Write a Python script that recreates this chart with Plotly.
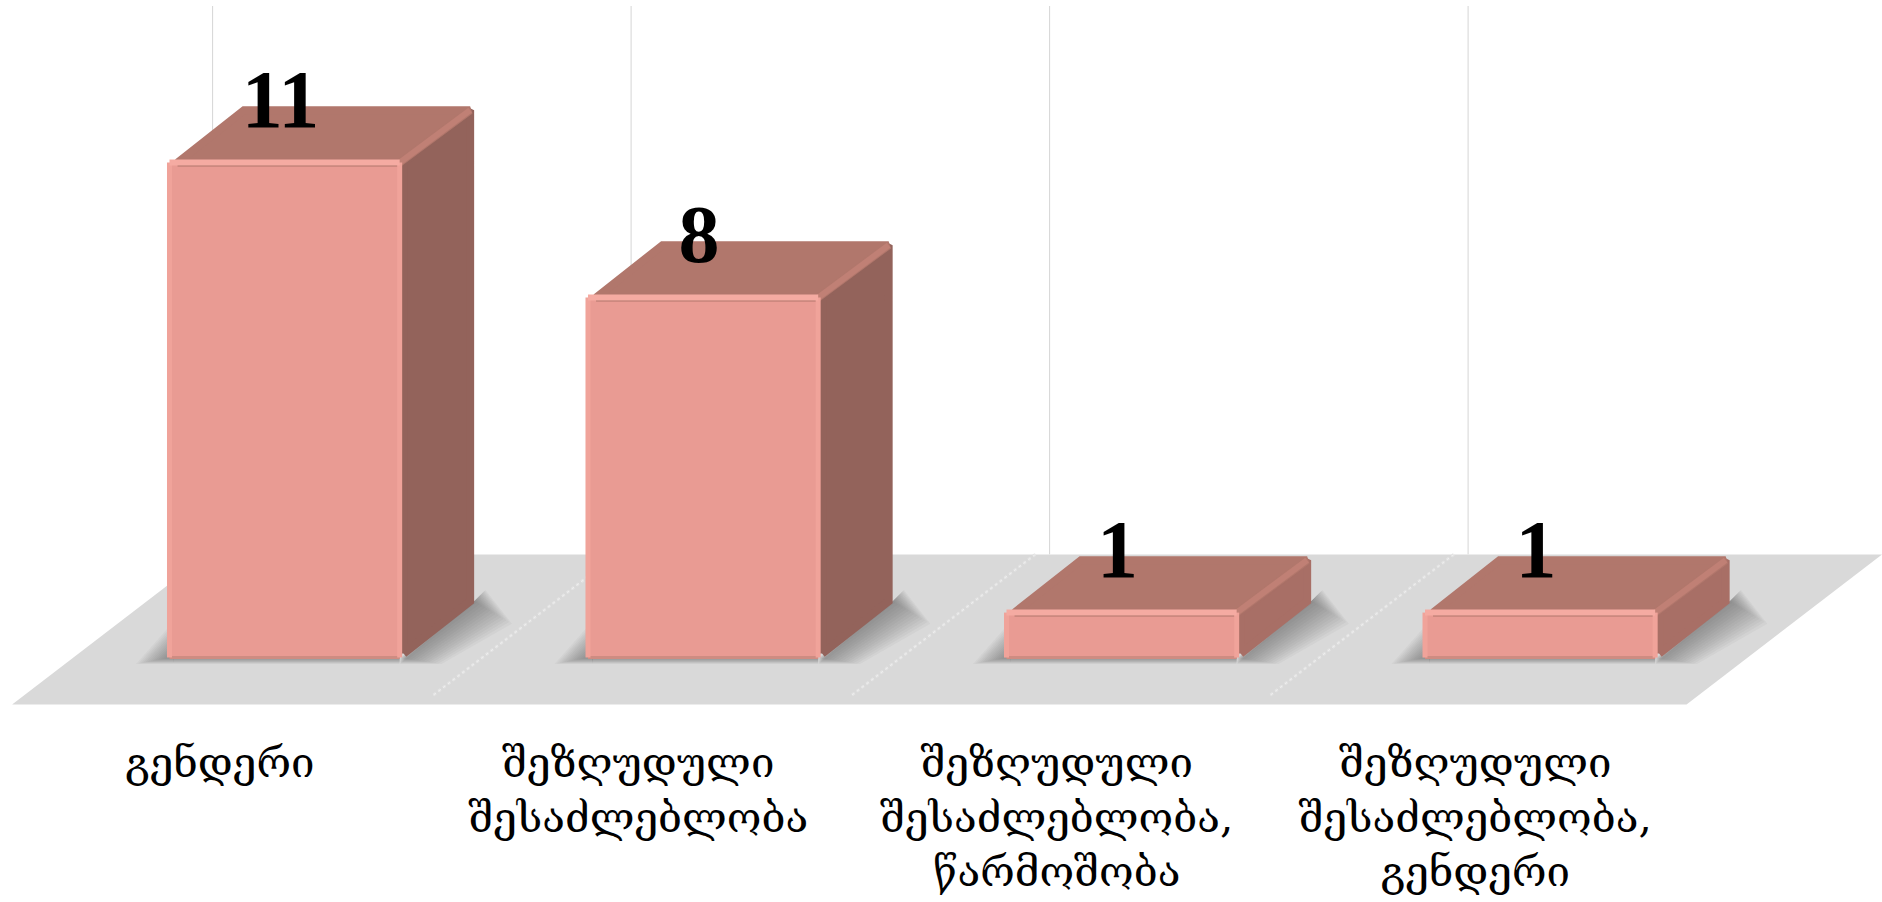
import plotly.graph_objects as go

categories = ["გენდერი", "შეზღუდული<br>შესაძლებლობა", "შეზღუდული<br>შესაძლებლობა,<br>წარმოშობა", "შეზღუდული<br>შესაძლებლობა,<br>გენდერი"]
values = [11, 8, 1, 1]
side_colors = ["#93635B", "#93635B", "#A86F66", "#A86F66"]

W, H = 1882, 902
positions = list(range(len(values)))
bar_w = 0.55
dx, dy = 0.178, 1.253           # oblique depth of the 3-D columns
rx, ry = 0.0096, 0.089          # corner rounding inset
fx, fy0, fy1 = 0.4675, -1.04, 2.293  # floor skew and extents
FONT = "DejaVu Serif"

def poly(xs, ys):
    return "M" + " L".join(f"{a},{b}" for a, b in zip(xs, ys)) + " Z"

shapes = []
# gridlines
for p in positions:
    g = p - 0.172
    shapes.append(dict(type="line", xref="x", yref="y", x0=g, x1=g, y0=fy1, y1=14.48,
                       line=dict(color="#D6D6D6", width=1), layer="below"))
# floor
shapes.append(dict(type="path", xref="x", yref="y", layer="below", line=dict(width=0), fillcolor="#D9D9D9",
                   path=poly([-0.651, -0.651 + fx, 3.817, 3.35], [fy0, fy1, fy1, fy0])))
# faint hatching continuation of gridlines on the floor (stops just short of the floor edge)
hatch_stop = 0.94
for p in positions[1:]:
    g = p - 0.206
    for wd, col in [(3, "#E3E3E3"), (1, "#EFEFEF")]:
        shapes.append(dict(type="line", xref="x", yref="y", x0=g, x1=g - fx * hatch_stop,
                           y0=fy1, y1=fy1 - (fy1 - fy0) * hatch_stop, layer="below",
                           line=dict(color=col, width=wd, dash="dot")))
# soft shadows
LAYERS = 14
SHADOW = "rgba(80,80,80,0.042)"
for p in positions:
    x0, x1 = p - bar_w / 2, p + bar_w / 2
    for k in range(LAYERS):
        t = (k + 1) / LAYERS
        ex, eb = 0.09 * t, 0.14 * t
        shapes.append(dict(type="path", xref="x", yref="y", layer="below", line=dict(width=0), fillcolor=SHADOW,
                           path=poly([x1, x1 + 0.1 * t, x1 + dx + ex, x1 + dx + ex * 0.3, x1 + dx],
                                     [-eb, -eb, dy - 0.5 * t, dy + 0.25 * t, dy])))
        shapes.append(dict(type="path", xref="x", yref="y", layer="below", line=dict(width=0), fillcolor=SHADOW,
                           path=poly([x0 + 0.01, x0 - 0.08 * t, x0 + 0.01], [0.8 * t, -eb, -eb])))
        shapes.append(dict(type="path", xref="x", yref="y", layer="below", line=dict(width=0), fillcolor=SHADOW,
                           path=poly([x0 + 0.01, x1, x1, x0 + 0.01], [0.05, 0.05, -eb, -eb])))

fig = go.Figure()
fig.add_trace(go.Bar(x=positions, y=values, width=bar_w, base=0,
                     marker=dict(color="#E99B93", line=dict(width=0), cornerradius=6), showlegend=False))

for p, v, sc in zip(positions, values, side_colors):
    x0, x1 = p - bar_w / 2, p + bar_w / 2
    # side face
    fig.add_trace(go.Scatter(x=[x1 + rx, x1 + dx - rx, x1 + dx - rx, x1 + rx, x1 + rx],
                             y=[ry, dy, v + dy - ry, v, ry], mode="lines",
                             fill="toself", fillcolor=sc, line=dict(color=sc, width=8),
                             hoverinfo="skip", showlegend=False))
    # top face
    fig.add_trace(go.Scatter(x=[x0 + 2 * rx, x1, x1 + dx - rx, x0 + dx, x0 + 2 * rx],
                             y=[v, v, v + dy - ry, v + dy - ry, v],
                             mode="lines", fill="toself", fillcolor="#B1776C", line=dict(color="#B1776C", width=8),
                             hoverinfo="skip", showlegend=False))
    # bevel highlights
    fig.add_trace(go.Scatter(x=[x1, x1 + dx - rx], y=[v, v + dy - ry], mode="lines",
                             line=dict(color="#C08075", width=6), hoverinfo="skip", showlegend=False))
    fig.add_trace(go.Scatter(x=[x0, x1], y=[0, 0], mode="lines",
                             line=dict(color="#CE8C82", width=3), hoverinfo="skip", showlegend=False))
    fig.add_trace(go.Scatter(x=[x0, x0, None, x1, x1], y=[0, v, None, 0, v], mode="lines",
                             line=dict(color="#F0A39A", width=5), hoverinfo="skip", showlegend=False))
    fig.add_trace(go.Scatter(x=[x0, x1], y=[v, v], mode="lines",
                             line=dict(color="#F5ABA2", width=6), hoverinfo="skip", showlegend=False))

# value labels
fig.add_trace(go.Scatter(x=[p - 0.01 for p in positions], y=[v + 1.25 for v in values], mode="text",
                         text=[str(v) for v in values], textposition="middle center",
                         textfont=dict(family="Liberation Serif", size=82, color="#000000", weight="bold"),
                         hoverinfo="skip", showlegend=False))

fig.update_layout(
    width=W, height=H, autosize=False,
    margin=dict(l=0, r=0, t=0, b=182), paper_bgcolor="#FFFFFF", plot_bgcolor="#FFFFFF",
    shapes=shapes, showlegend=False, bargap=0,
    xaxis=dict(range=[-0.68, 3.817], tickmode="array", tickvals=[p - 0.155 for p in positions], ticktext=categories,
               showgrid=False, zeroline=False, showline=False, ticks="", tickangle=0, ticklabelstandoff=14,
               tickfont=dict(family=FONT, size=42, color="#000000")),
    yaxis=dict(range=[-1.387, 14.613], visible=False, showgrid=False, zeroline=False),
)
fig.write_html("out.html", config=dict(displayModeBar=False),
               post_script="document.body.style.margin='0';document.body.style.overflow='hidden';")
